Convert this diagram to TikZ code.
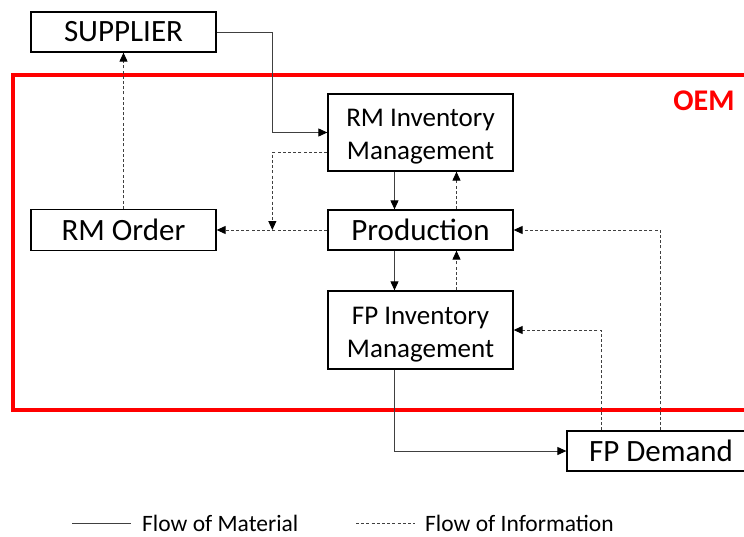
\documentclass[tikz,border=0pt]{standalone}
\usepackage{fontspec}
\setmainfont{Carlito}
\usetikzlibrary{arrows.meta,calc}
\begin{document}
\begin{tikzpicture}[x=1pt,y=-1pt,
  box/.style={draw=black, line width=1.3pt, fill=white, minimum width=185pt, inner sep=0pt, align=center, font=\fontsize{31}{33}\selectfont},
  tbox/.style={box, font=\fontsize{27}{33}\selectfont},
  mat/.style={draw=black!75, line width=1pt, -{Triangle[length=9pt,width=8pt,color=black]}},
  info/.style={draw=black!75, line width=1pt, dash pattern=on 3pt off 2.2pt, -{Triangle[length=9pt,width=8pt,color=black]}},
  leg/.style={font=\fontsize{23.5}{26}\selectfont, anchor=west, inner sep=0pt}
]
\clip (0,0) rectangle (744,536);
\fill[white] (0,0) rectangle (744,536);
% OEM boundary
\draw[red, line width=4pt] (13,75) rectangle (790,410);
\node[text=red, font=\fontsize{30}{32}\selectfont\bfseries] (oem) at (704,101) {OEM};
% boxes
\node[box, minimum height=40pt] (supplier) at (123.5,32) {SUPPLIER};
\node[tbox, minimum height=77pt] (rminv) at (420.5,132.5) {\rule{0pt}{26pt}RM Inventory\\Management};
\node[box, minimum height=40pt] (prod) at (420.5,230) {Production};
\node[tbox, minimum height=78pt] (fpinv) at (420.5,330) {\rule{0pt}{26pt}FP Inventory\\Management};
\node[box, minimum height=41pt] (rmorder) at (123.5,230) {RM Order};
\node[box, minimum height=40pt, minimum width=188pt] (fpdemand) at (661,451) {FP Demand};
% material flows
\draw[mat] (supplier.east) -| ([xshift=-55pt]rminv.west) -- (rminv.west);
\draw[mat] ([xshift=-26pt]rminv.south) -- ([xshift=-26pt]prod.north);
\draw[mat] ([xshift=-26pt]prod.south) -- ([xshift=-26pt]fpinv.north);
\draw[mat] ([xshift=-26pt]fpinv.south) |- (fpdemand.west);
% information flows
\draw[info] ([yshift=-20pt]rminv.west) -| ([xshift=-55pt]prod.west);
\draw[info] (prod.west) -- (rmorder.east);
\draw[info] (rmorder.north) -- (supplier.south);
\draw[info] ([xshift=36pt]prod.north) -- ([xshift=36pt]rminv.south);
\draw[info] ([xshift=36pt]fpinv.north) -- ([xshift=36pt]prod.south);
\draw[info] ([xshift=-1pt]fpdemand.north) |- (prod.east);
\draw[info] ([xshift=-60pt]fpdemand.north) |- (fpinv.east);
% legend
\coordinate (lma) at (72,523);
\coordinate (lmb) at (131,523);
\draw[draw=black!75, line width=1pt] (lma) -- (lmb);
\node[leg] (lmt) at (142,523) {Flow of Material};
\coordinate (lia) at (356,523);
\coordinate (lib) at (415,523);
\draw[draw=black!75, line width=1pt, dash pattern=on 3pt off 2.2pt] (lia) -- (lib);
\node[leg] (lit) at (425,523) {Flow of Information};
\end{tikzpicture}
\end{document}
